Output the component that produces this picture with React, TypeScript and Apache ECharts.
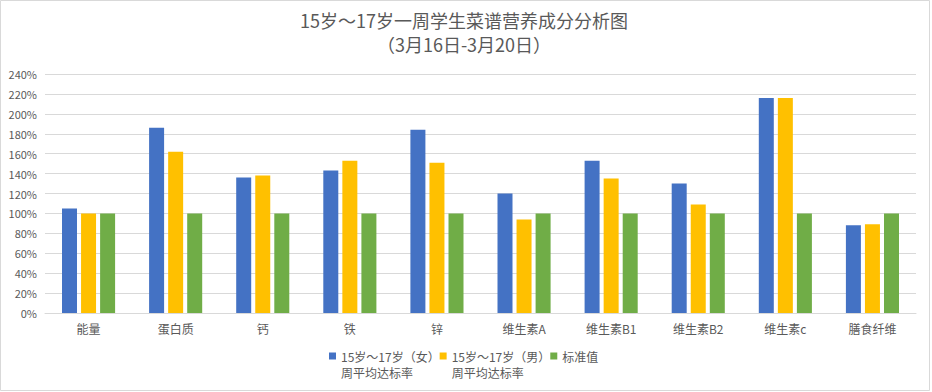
import React, { useEffect, useRef } from "react";
import * as echarts from "echarts";

const categories = ["能量", "蛋白质", "钙", "铁", "锌", "维生素A", "维生素B1", "维生素B2", "维生素c", "膳食纤维"];
const femaleRate = [105, 186, 136, 143, 184, 120, 153, 130, 216, 88];
const maleRate = [100, 162, 138, 153, 151, 94, 135, 109, 216, 89];
const standardValue = [100, 100, 100, 100, 100, 100, 100, 100, 100, 100];
const seriesNames = ["15岁～17岁（女）\n周平均达标率", "15岁～17岁（男）\n周平均达标率", "标准值"];
const titleText = "15岁～17岁一周学生菜谱营养成分分析图\n（3月16日-3月20日）";

const FONT = "'Noto Sans CJK SC', 'Noto Sans', sans-serif";
const TEXT_COLOR = "#595959";
const GRID_COLOR = "#d9d9d9";

export default function App() {
  const ref = useRef<HTMLDivElement>(null);
  useEffect(() => {
    if (!ref.current) return;
    const chart = echarts.init(ref.current, null, { renderer: "svg" });
    chart.setOption({
      animation: false,
      backgroundColor: "#ffffff",
      textStyle: { fontFamily: FONT },
      title: {
        text: titleText,
        left: 464,
        top: 8,
        padding: 0,
        textAlign: "center",
        textStyle: {
          fontFamily: FONT,
          fontSize: 18,
          fontWeight: "normal",
          color: TEXT_COLOR,
          lineHeight: 24,
        },
      },
      legend: {
        left: 329,
        top: 332,
        padding: 0,
        itemWidth: 7,
        itemHeight: 7,
        itemGap: 0,
        icon: "rect",
        data: seriesNames,
        formatter: (name: string) => (name.indexOf("\n") >= 0 ? "\n" + name : name),
        textStyle: {
          fontFamily: FONT,
          fontSize: 12,
          color: TEXT_COLOR,
          lineHeight: 16,
        },
      },
      grid: { left: 45, right: 16, top: 74, bottom: 79, containLabel: false },
      xAxis: {
        type: "category",
        data: categories,
        axisLine: { show: true, lineStyle: { color: GRID_COLOR, width: 1 } },
        axisTick: { show: false },
        axisLabel: { color: TEXT_COLOR, fontSize: 12, fontFamily: FONT, margin: 9, interval: 0 },
      },
      yAxis: {
        type: "value",
        min: 0,
        max: 240,
        interval: 20,
        axisLine: { show: false },
        axisTick: { show: false },
        splitLine: { lineStyle: { color: GRID_COLOR, width: 1 } },
        axisLabel: { color: TEXT_COLOR, fontSize: 11, fontFamily: FONT, formatter: "{value}%", margin: 8 },
      },
      series: [
        { name: seriesNames[0], type: "bar", data: femaleRate, barWidth: 15, barGap: "27%", itemStyle: { color: "#4472C4" } },
        { name: seriesNames[1], type: "bar", data: maleRate, barWidth: 15, barGap: "27%", itemStyle: { color: "#FFC000" } },
        { name: seriesNames[2], type: "bar", data: standardValue, barWidth: 15, barGap: "27%", itemStyle: { color: "#70AD47" } },
      ],
      graphic: [
        {
          type: "rect",
          silent: true,
          shape: { x: 0.5, y: 0.5, width: 929, height: 390 },
          style: { fill: "none", stroke: GRID_COLOR, lineWidth: 1 },
        },
      ],
    });
    return () => chart.dispose();
  }, []);
  return (
    <div
      ref={ref}
      style={{ position: "fixed", left: 0, top: 0, width: 932, height: 392, background: "#fff" }}
    />
  );
}
